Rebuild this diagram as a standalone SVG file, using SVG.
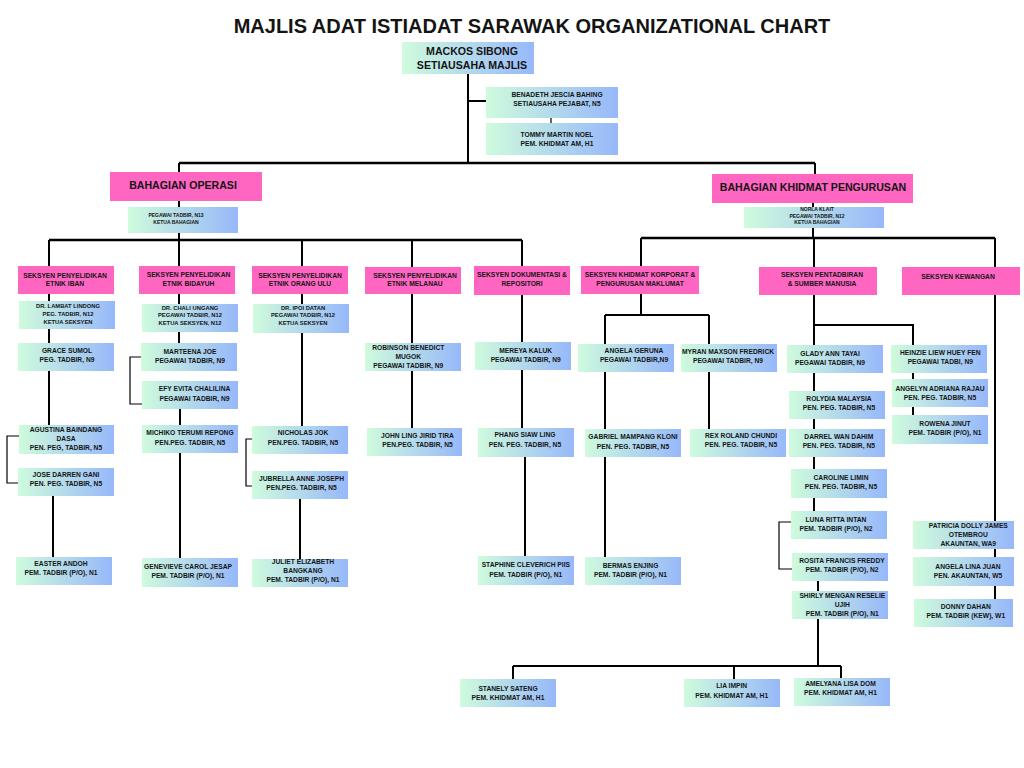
<svg xmlns="http://www.w3.org/2000/svg" width="1024" height="768" viewBox="0 0 1024 768">
<defs>
<linearGradient id="g" x1="0" y1="0" x2="1" y2="0">
<stop offset="0" stop-color="#cffbdd"/>
<stop offset="1" stop-color="#97b8fa"/>
</linearGradient>
<style>
.b{fill:url(#g)}
.p{fill:#ff66c2}
text{font-family:"Liberation Sans",Arial,sans-serif;font-weight:bold;fill:#141414;text-anchor:middle}
.n{font-size:6.7px}
.s{font-size:5.8px}
.k{font-size:5px}
.h{font-size:10.6px}
.c path{fill:none;stroke:#000;stroke-width:2}
.c .t{stroke-width:1.2}
</style>
</defs>
<rect width="1024" height="768" fill="#fff"/>
<text x="532" y="33" style="font-size:20px">MAJLIS ADAT ISTIADAT SARAWAK ORGANIZATIONAL CHART</text>
<g class="c" id="connectors">
<path d="M468 74V163M468 101H486"/>
<path class="t" d="M551 118V123"/>
<path d="M179 163H815" style="stroke-width:2.5"/>
<path d="M179 163V172M815 163V174M179 201V207M179 233V240M813 203V207M813 228V238"/>
<path d="M49 240H522" style="stroke-width:2.5"/>
<path d="M641 238H995" style="stroke-width:2.5"/>
<path d="M49 240V425M53 496V557"/>
<path class="t" d="M19 436H7V483H18"/>
<path d="M179 240V343M180 409V425M180 453V558"/>
<path class="t" d="M141 357H130V404H142"/>
<path d="M302 240V426M300 499V559"/>
<path class="t" d="M252 439H246V486H252"/>
<path d="M412 240V428"/>
<path d="M522 240V428M525 457V556"/>
<path d="M641 238V315M605 315H709M605 315V557M709 315V429"/>
<path d="M814 238V345M814 325H913V345M814 373V511M913 373V379M913 407V415"/>
<path class="t" d="M791 522H779V569H792"/>
<path d="M818 581V591M818 619V666M513 666H841M513 666V679M734 666V679M841 666V678"/>
<path d="M995 238V599"/>
</g>
<g id="mackos"><rect class="b" x="402" y="42" width="132" height="32"/><text class="h" x="472" y="55">MACKOS SIBONG</text><text class="h" x="472" y="69">SETIAUSAHA MAJLIS</text></g>
<g id="benadeth"><rect class="b" x="486" y="87" width="132" height="31"/><text class="n" x="557" y="97">BENADETH JESCIA BAHING</text><text class="n" x="557" y="106">SETIAUSAHA PEJABAT, N5</text></g>
<g id="tommy"><rect class="b" x="486" y="123" width="132" height="32"/><text class="n" x="557" y="137">TOMMY MARTIN NOEL</text><text class="n" x="557" y="146">PEM. KHIDMAT AM, H1</text></g>
<g id="operasi"><rect class="p" x="110" y="172" width="152" height="29"/><text class="h" x="183" y="189">BAHAGIAN OPERASI</text></g>
<g id="ketua-operasi"><rect class="b" x="128" y="207" width="110" height="26"/><text class="k" x="176" y="216.5">PEGAWAI TADBIR, N13</text><text class="k" x="176" y="223.5">KETUA BAHAGIAN</text></g>
<g id="khidmat"><rect class="p" x="712" y="174" width="201" height="29"/><text class="h" x="813" y="191">BAHAGIAN KHIDMAT PENGURUSAN</text></g>
<g id="norla"><rect class="b" x="744" y="207" width="140" height="21"/><text class="k" x="817" y="211">NORLA KLAIT</text><text class="k" x="817" y="217.5">PEGAWAI TADBIR, N12</text><text class="k" x="817" y="224">KETUA BAHAGIAN</text></g>
<g id="s-iban"><rect class="p" x="18" y="266" width="96" height="28"/><text class="n" x="65" y="277.5">SEKSYEN PENYELIDIKAN</text><text class="n" x="65" y="285.7">ETNIK IBAN</text></g>
<g id="s-bidayuh"><rect class="p" x="139" y="266" width="96" height="28"/><text class="n" x="188.5" y="277.3">SEKSYEN PENYELIDIKAN</text><text class="n" x="188.5" y="285.7">ETNIK BIDAYUH</text></g>
<g id="s-orangulu"><rect class="p" x="252" y="266" width="96" height="28"/><text class="n" x="300" y="277.5">SEKSYEN PENYELIDIKAN</text><text class="n" x="300" y="286">ETNIK ORANG ULU</text></g>
<g id="s-melanau"><rect class="p" x="365" y="267" width="96" height="27"/><text class="n" x="415" y="277.7">SEKSYEN PENYELIDIKAN</text><text class="n" x="415" y="285.7">ETNIK MELANAU</text></g>
<g id="s-dokumentasi"><rect class="p" x="474" y="266" width="96" height="29"/><text class="n" x="522" y="276.7">SEKSYEN DOKUMENTASI &amp;</text><text class="n" x="522" y="285.7">REPOSITORI</text></g>
<g id="s-korporat"><rect class="p" x="581" y="266" width="118" height="28"/><text class="n" x="640" y="277">SEKSYEN KHIDMAT KORPORAT &amp;</text><text class="n" x="640" y="286">PENGURUSAN MAKLUMAT</text></g>
<g id="s-pentadbiran"><rect class="p" x="759" y="267" width="118" height="28"/><text class="n" x="822" y="276.7">SEKSYEN PENTADBIRAN</text><text class="n" x="822" y="285.7">&amp; SUMBER MANUSIA</text></g>
<g id="s-kewangan"><rect class="p" x="902" y="267" width="118" height="28"/><text class="n" x="958" y="278.7">SEKSYEN KEWANGAN</text></g>
<g id="lambat"><rect class="b" x="19" y="301" width="96" height="28"/><text class="s" x="68" y="308">DR. LAMBAT LINDONG</text><text class="s" x="68" y="316">PEG. TADBIR, N12</text><text class="s" x="68" y="323.7">KETUA SEKSYEN</text></g>
<g id="grace"><rect class="b" x="18" y="343" width="96" height="28"/><text class="n" x="67" y="352.7">GRACE SUMOL</text><text class="n" x="67" y="361.7">PEG. TADBIR, N9</text></g>
<g id="agustina"><rect class="b" x="19" y="425" width="95" height="29"/><text class="n" x="66" y="432">AGUSTINA BAINDANG</text><text class="n" x="66" y="441">DASA</text><text class="n" x="66" y="449.5">PEN. PEG, TADBIR, N5</text></g>
<g id="jose"><rect class="b" x="18" y="468" width="96" height="28"/><text class="n" x="66" y="476.7">JOSE DARREN GANI</text><text class="n" x="66" y="486">PEN. PEG. TADBIR, N5</text></g>
<g id="easter"><rect class="b" x="16" y="557" width="96" height="28"/><text class="n" x="61" y="566">EASTER ANDOH</text><text class="n" x="61" y="575.3">PEM. TADBIR (P/O), N1</text></g>
<g id="chali"><rect class="b" x="142" y="304" width="96" height="28"/><text class="s" x="190" y="310">DR. CHALI UNGANG</text><text class="s" x="190" y="317.3">PEGAWAI TADBIR, N12</text><text class="s" x="190" y="325.3">KETUA SEKSYEN, N12</text></g>
<g id="marteena"><rect class="b" x="141" y="343" width="96" height="28"/><text class="n" x="190" y="353.7">MARTEENA JOE</text><text class="n" x="190" y="362.7">PEGAWAI TADBIR, N9</text></g>
<g id="efy"><rect class="b" x="142" y="381" width="96" height="28"/><text class="n" x="194.5" y="391.3">EFY EVITA CHALILINA</text><text class="n" x="194.5" y="400.7">PEGAWAI TADBIR, N9</text></g>
<g id="michiko"><rect class="b" x="142" y="425" width="96" height="28"/><text class="n" x="190" y="435.3">MICHIKO TERUMI REPONG</text><text class="n" x="190" y="444.7">PEN.PEG. TADBIR, N5</text></g>
<g id="genevieve"><rect class="b" x="142" y="558" width="96" height="29"/><text class="n" x="188" y="569.3">GENEVIEVE CAROL JESAP</text><text class="n" x="188" y="578.3">PEM. TADBIR (P/O), N1</text></g>
<g id="ipoi"><rect class="b" x="253" y="304" width="96" height="29"/><text class="s" x="303" y="310.3">DR. IPOI DATAN</text><text class="s" x="303" y="317.3">PEGAWAI TADBIR, N12</text><text class="s" x="303" y="325.3">KETUA SEKSYEN</text></g>
<g id="nicholas"><rect class="b" x="252" y="426" width="96" height="28"/><text class="n" x="303" y="435.3">NICHOLAS JOK</text><text class="n" x="303" y="444.7">PEN.PEG. TADBIR, N5</text></g>
<g id="jubrella"><rect class="b" x="252" y="471" width="96" height="28"/><text class="n" x="301.5" y="481.3">JUBRELLA ANNE JOSEPH</text><text class="n" x="301.5" y="489.7">PEN.PEG. TADBIR, N5</text></g>
<g id="juliet"><rect class="b" x="252" y="559" width="96" height="28"/><text class="n" x="303" y="564">JULIET ELIZABETH</text><text class="n" x="303" y="573.3">BANGKANG</text><text class="n" x="303" y="582.3">PEM. TADBIR (P/O), N1</text></g>
<g id="robinson"><rect class="b" x="365" y="343" width="96" height="28"/><text class="n" x="408.3" y="350.3">ROBINSON BENEDICT</text><text class="n" x="408.3" y="359.3">MUGOK</text><text class="n" x="408.3" y="368.3">PEGAWAI TADBIR, N9</text></g>
<g id="johnling"><rect class="b" x="367" y="428" width="95" height="28"/><text class="n" x="417.5" y="437.7">JOHN LING JIRID TIRA</text><text class="n" x="417.5" y="447">PEN.PEG. TADBIR, N5</text></g>
<g id="mereya"><rect class="b" x="475" y="342" width="96" height="28"/><text class="n" x="525.7" y="352.7">MEREYA KALUK</text><text class="n" x="525.7" y="361.7">PEGAWAI TADBIR, N9</text></g>
<g id="phang"><rect class="b" x="478" y="428" width="96" height="29"/><text class="n" x="525" y="437.3">PHANG SIAW LING</text><text class="n" x="525" y="447">PEN. PEG. TADBIR, N5</text></g>
<g id="staphine"><rect class="b" x="478" y="556" width="96" height="29"/><text class="n" x="525.8" y="567.3">STAPHINE CLEVERICH PIIS</text><text class="n" x="525.8" y="576.7">PEM. TADBIR (P/O), N1</text></g>
<g id="angela-geruna"><rect class="b" x="578" y="344" width="96" height="28"/><text class="n" x="634" y="353">ANGELA GERUNA</text><text class="n" x="634" y="362">PEGAWAI TADBIR,N9</text></g>
<g id="myran"><rect class="b" x="681" y="344" width="96" height="28"/><text class="n" x="728" y="354.3">MYRAN MAXSON FREDRICK</text><text class="n" x="728" y="363.3">PEGAWAI TADBIR, N9</text></g>
<g id="gabriel"><rect class="b" x="585" y="429" width="96" height="28"/><text class="n" x="633" y="439.3">GABRIEL MAMPANG KLONI</text><text class="n" x="633" y="448.7">PEN. PEG. TADBIR, N5</text></g>
<g id="bermas"><rect class="b" x="585" y="557" width="96" height="28"/><text class="n" x="630.5" y="567.7">BERMAS ENJING</text><text class="n" x="630.5" y="576.7">PEM. TADBIR (P/O), N1</text></g>
<g id="rex"><rect class="b" x="690" y="429" width="96" height="28"/><text class="n" x="741" y="438.3">REX ROLAND CHUNDI</text><text class="n" x="741" y="447.3">PEN. PEG. TADBIR, N5</text></g>
<g id="glady"><rect class="b" x="787" y="345" width="96" height="28"/><text class="n" x="830" y="355.7">GLADY ANN TAYAI</text><text class="n" x="830" y="364.7">PEGAWAI TADBIR, N9</text></g>
<g id="rolydia"><rect class="b" x="789" y="391" width="96" height="28"/><text class="n" x="839" y="400.7">ROLYDIA MALAYSIA</text><text class="n" x="839" y="409.7">PEN. PEG. TADBIR, N5</text></g>
<g id="darrel"><rect class="b" x="789" y="429" width="96" height="28"/><text class="n" x="838.8" y="439.3">DARREL WAN DAHIM</text><text class="n" x="838.8" y="448.3">PEN. PEG. TADBIR, N5</text></g>
<g id="caroline"><rect class="b" x="791" y="469" width="96" height="29"/><text class="n" x="841" y="479.7">CAROLINE LIMIN</text><text class="n" x="841" y="488.7">PEN. PEG. TADBIR, N5</text></g>
<g id="luna"><rect class="b" x="791" y="511" width="96" height="28"/><text class="n" x="836" y="521.7">LUNA RITTA INTAN</text><text class="n" x="836" y="531">PEM. TADBIR (P/O), N2</text></g>
<g id="rosita"><rect class="b" x="792" y="553" width="96" height="28"/><text class="n" x="842" y="563.3">ROSITA FRANCIS FREDDY</text><text class="n" x="842" y="572.3">PEM. TADBIR (P/O), N2</text></g>
<g id="shirly"><rect class="b" x="792" y="591" width="96" height="28"/><text class="n" x="842.3" y="597.7">SHIRLY MENGAN RESELIE</text><text class="n" x="842.3" y="606.7">UJIH</text><text class="n" x="842.3" y="615.7">PEM. TADBIR (P/O), N1</text></g>
<g id="heinzie"><rect class="b" x="891" y="345" width="96" height="28"/><text class="n" x="940.3" y="354.7">HEINZIE LIEW HUEY FEN</text><text class="n" x="940.3" y="364">PEGAWAI TADBI, N9</text></g>
<g id="angelyn"><rect class="b" x="892" y="379" width="96" height="28"/><text class="n" x="940" y="390.7">ANGELYN ADRIANA RAJAU</text><text class="n" x="940" y="399.7">PEN. PEG. TADBIR, N5</text></g>
<g id="rowena"><rect class="b" x="892" y="415" width="96" height="29"/><text class="n" x="945" y="425.7">ROWENA JINUT</text><text class="n" x="945" y="434.7">PEM. TADBIR (P/O), N1</text></g>
<g id="patricia"><rect class="b" x="913" y="521" width="101" height="28"/><text class="n" x="968.3" y="527.7">PATRICIA DOLLY JAMES</text><text class="n" x="968.3" y="536.7">OTEMBROU</text><text class="n" x="968.3" y="545.7">AKAUNTAN, WA9</text></g>
<g id="angela-lina"><rect class="b" x="913" y="557" width="101" height="29"/><text class="n" x="968" y="569.3">ANGELA LINA JUAN</text><text class="n" x="968" y="578.3">PEN. AKAUNTAN, W5</text></g>
<g id="donny"><rect class="b" x="914" y="599" width="99" height="28"/><text class="n" x="965.8" y="609.3">DONNY DAHAN</text><text class="n" x="965.8" y="618.3">PEM. TADBIR (KEW), W1</text></g>
<g id="stanely"><rect class="b" x="460" y="679" width="96" height="28"/><text class="n" x="508" y="690.7">STANELY SATENG</text><text class="n" x="508" y="700">PEM. KHIDMAT AM, H1</text></g>
<g id="lia"><rect class="b" x="684" y="679" width="96" height="28"/><text class="n" x="731.7" y="688.3">LIA IMPIN</text><text class="n" x="731.7" y="697.7">PEM. KHIDMAT AM, H1</text></g>
<g id="amelyana"><rect class="b" x="794" y="678" width="96" height="28"/><text class="n" x="840.5" y="686">AMELYANA LISA DOM</text><text class="n" x="840.5" y="695">PEM. KHIDMAT AM, H1</text></g>
</svg>
